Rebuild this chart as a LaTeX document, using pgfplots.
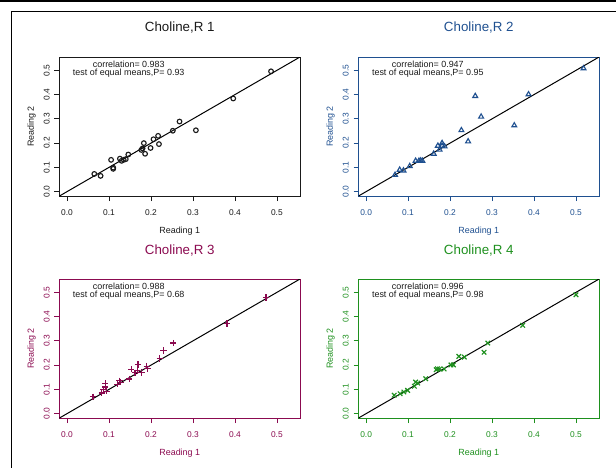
\documentclass[border=0pt]{standalone}
\usepackage{fontspec}
\setmainfont{Liberation Sans}
\usepackage{pgfplots}
\pgfplotsset{compat=1.18}
\definecolor{rblack}{HTML}{1A1A1A}
\definecolor{rblue}{HTML}{1F5090}
\definecolor{rmaroon}{HTML}{8B0A50}
\definecolor{rgreen}{HTML}{1E901E}
\pgfplotsset{
  rpanel/.style={
    scale only axis, width=180.4pt, height=104.25pt,
    xmin=-0.018, xmax=0.555, ymin=-0.018, ymax=0.555,
    axis line style={#1, line width=0.7pt},
    tick style={#1, line width=0.6pt},
    tick align=outside, major tick length=3.75pt,
    xtick pos=bottom, ytick pos=left,
    xtick={0,0.1,0.2,0.3,0.4,0.5}, xticklabels={0.0,0.1,0.2,0.3,0.4,0.5},
    ytick={0,0.1,0.2,0.3,0.4,0.5}, yticklabels={0.0,0.1,0.2,0.3,0.4,0.5},
    xticklabel shift=3pt,
    tick label style={font=\fontsize{6.3}{7}\selectfont, text=#1},
    yticklabel style={rotate=90, anchor=south},
    xlabel={Reading 1}, ylabel={Reading 2},
    label style={font=\fontsize{6.7}{8}\selectfont, text=#1},
    xlabel style={at={(axis description cs:0.5,-0.25)}, anchor=center},
    ylabel style={at={(axis description cs:-0.116,0.5)}, anchor=center},
    title style={font=\fontsize{10}{12}\selectfont, text=#1, at={(axis description cs:0.5,1.151)}, anchor=center},
    clip=true,
  },
  refline/.style={black, line width=0.75pt},
  pts/.style={only marks, mark options={line width=0.85pt}, #1},
}
\newcommand{\annot}[2]{%
  \node[font=\fontsize{6.7}{8}\selectfont, text=rblack] at (axis cs:0.147,0.523) {correlation= #1};
  \node[font=\fontsize{6.7}{8}\selectfont, text=rblack] at (axis cs:0.147,0.487) {test of equal means,P= #2};}
\begin{document}
\begin{tikzpicture}
\useasboundingbox (0,0) rectangle (462pt,-351pt);
\draw[line width=1.3pt] (0,-0.6pt) -- (462pt,-0.6pt);
\draw[line width=0.75pt] (462pt,-8.25pt) -- (8.25pt,-8.25pt) -- (8.25pt,-351pt);

% panel 1
\begin{axis}[rpanel=rblack, at={(44.6pt,-147pt)}, anchor=south west, title={Choline,R 1}]
  \addplot[refline] coordinates {(-0.018,-0.018) (0.555,0.555)};
  \addplot[pts=rblack, mark=o, mark size=1.75pt] coordinates {
    (0.065,0.073) (0.080,0.065) (0.105,0.131) (0.110,0.099) (0.110,0.094)
    (0.126,0.136) (0.130,0.127) (0.135,0.131) (0.140,0.134) (0.146,0.153)
    (0.177,0.172) (0.180,0.178) (0.183,0.200) (0.186,0.156) (0.199,0.180)
    (0.206,0.216) (0.217,0.230) (0.219,0.196) (0.252,0.251) (0.268,0.289)
    (0.307,0.253) (0.396,0.384) (0.486,0.496)};
  \annot{0.983}{0.93}
\end{axis}

% panel 2
\begin{axis}[rpanel=rblue, at={(268.9pt,-147pt)}, anchor=south west, title={Choline,R 2}]
  \addplot[refline] coordinates {(-0.018,-0.018) (0.555,0.555)};
  \addplot[pts=rblue, mark=triangle, mark size=2.1pt] coordinates {
    (0.069,0.069) (0.080,0.090) (0.089,0.087) (0.104,0.105) (0.118,0.127)
    (0.126,0.127) (0.130,0.128) (0.134,0.127) (0.161,0.156) (0.171,0.189)
    (0.175,0.173) (0.181,0.200) (0.181,0.189) (0.187,0.186) (0.227,0.253)
    (0.243,0.207) (0.260,0.394) (0.274,0.309) (0.353,0.273) (0.387,0.401)
    (0.518,0.508)};
  \annot{0.947}{0.95}
\end{axis}

% panel 3
\begin{axis}[rpanel=rmaroon, at={(44.6pt,-313.5pt)}, anchor=south west, title={Choline,R 3}]
  \addplot[refline] coordinates {(-0.018,-0.018) (0.555,0.555)};
  \addplot[pts=rmaroon, mark=+, mark size=2.4pt] coordinates {
    (0.062,0.069) (0.083,0.085) (0.087,0.100) (0.091,0.124) (0.091,0.110)
    (0.094,0.093) (0.120,0.121) (0.125,0.135) (0.127,0.130) (0.148,0.143)
    (0.153,0.183) (0.162,0.168) (0.167,0.177) (0.169,0.203) (0.177,0.170)
    (0.190,0.196) (0.192,0.185) (0.221,0.228) (0.230,0.261) (0.253,0.291)
    (0.381,0.371) (0.474,0.479)};
  \annot{0.988}{0.68}
\end{axis}

% panel 4
\begin{axis}[rpanel=rgreen, at={(268.9pt,-313.5pt)}, anchor=south west, title={Choline,R 4}]
  \addplot[refline] coordinates {(-0.018,-0.018) (0.555,0.555)};
  \addplot[pts=rgreen, mark=x, mark size=2.4pt] coordinates {
    (0.067,0.076) (0.081,0.082) (0.090,0.089) (0.099,0.096) (0.115,0.113)
    (0.118,0.130) (0.123,0.126) (0.142,0.144) (0.167,0.181) (0.170,0.185)
    (0.175,0.184) (0.186,0.184) (0.202,0.201) (0.208,0.201) (0.221,0.236)
    (0.234,0.233) (0.281,0.253) (0.290,0.291) (0.373,0.364) (0.500,0.490)};
  \annot{0.996}{0.98}
\end{axis}
\end{tikzpicture}
\end{document}
